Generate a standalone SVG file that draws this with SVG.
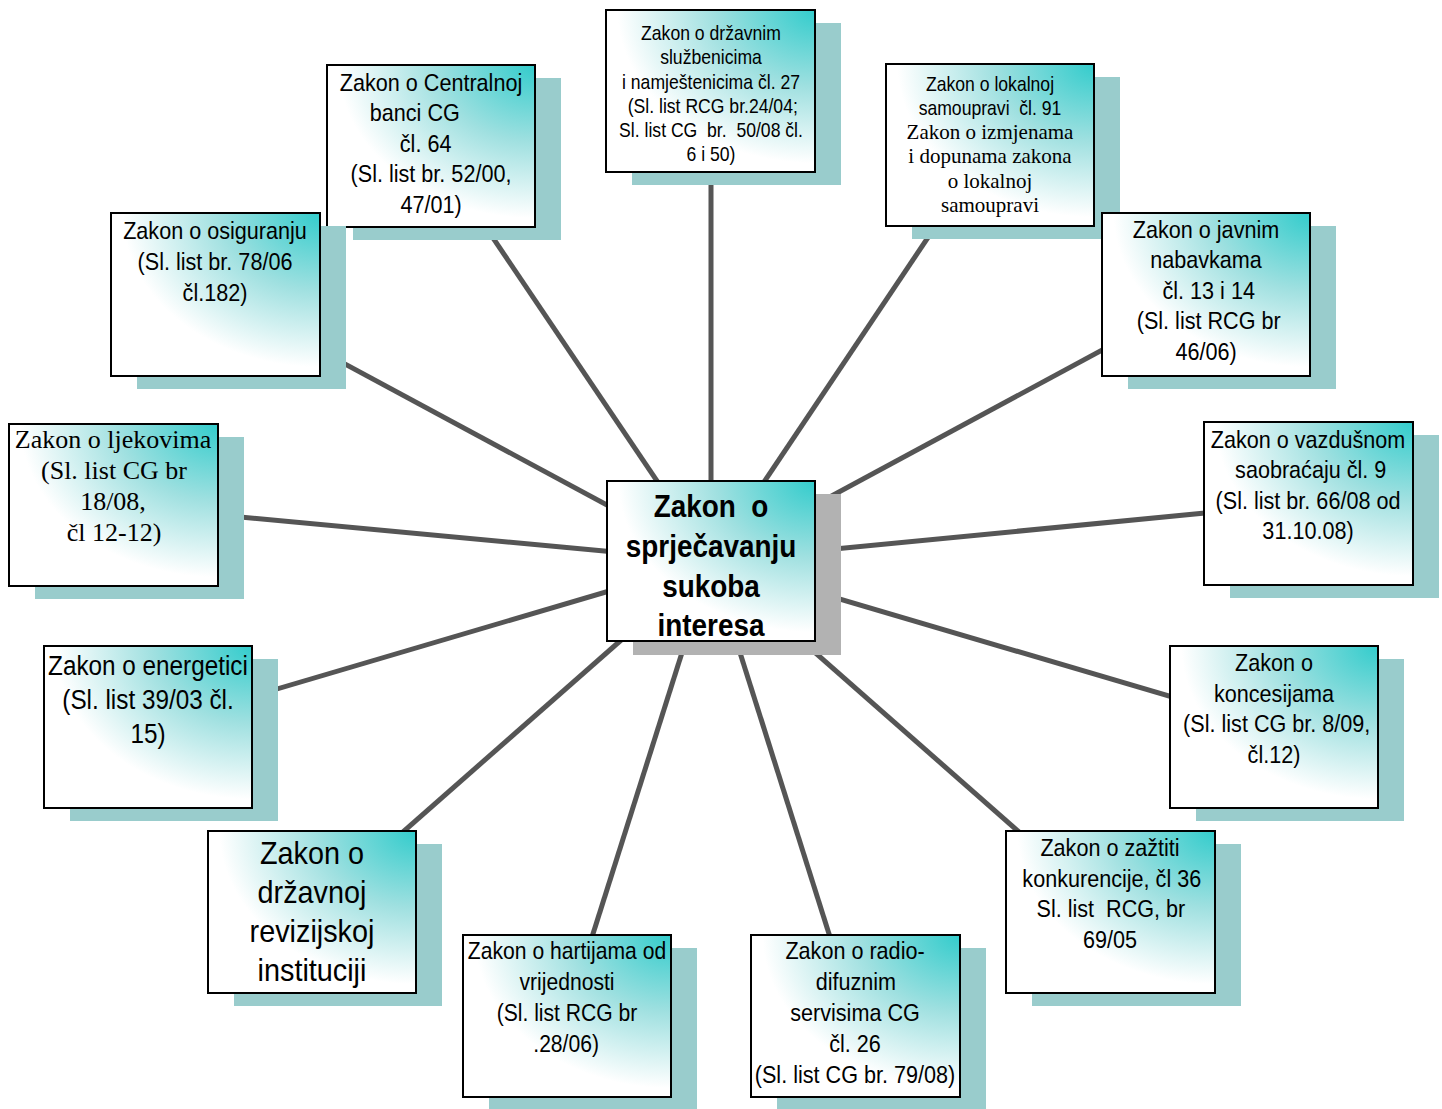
<svg xmlns="http://www.w3.org/2000/svg" width="1442" height="1109" viewBox="0 0 1442 1109">
<defs>
<radialGradient id="g" cx="1" cy="0" r="1.05" fx="1" fy="0">
<stop offset="0" stop-color="#33CCCC"/>
<stop offset="0.45" stop-color="#9FE0E0"/>
<stop offset="0.9" stop-color="#FFFFFF"/>
</radialGradient>
<style>
.bx{fill:url(#g);stroke:#000;stroke-width:2}
.sh{fill:#99CCCC}
.shc{fill:#B2B2B2}
.ln{stroke:#555555;stroke-width:5;fill:none}
.s{font-family:"Liberation Sans",Arial,sans-serif;text-anchor:middle;fill:#000}
.t{font-family:"Liberation Serif","Times New Roman",serif;text-anchor:middle;fill:#000}
.b{font-weight:bold}
</style>
</defs>
<rect width="1442" height="1109" fill="#FFFFFF"/>
<g id="connectors">
<line class="ln" x1="711" y1="561" x2="431" y2="146"/>
<line class="ln" x1="711" y1="561" x2="711" y2="91"/>
<line class="ln" x1="711" y1="561" x2="990" y2="145"/>
<line class="ln" x1="711" y1="561" x2="215" y2="294"/>
<line class="ln" x1="711" y1="561" x2="1206" y2="294"/>
<line class="ln" x1="711" y1="561" x2="113" y2="505"/>
<line class="ln" x1="711" y1="561" x2="1308" y2="503"/>
<line class="ln" x1="711" y1="561" x2="148" y2="727"/>
<line class="ln" x1="711" y1="561" x2="1274" y2="727"/>
<line class="ln" x1="711" y1="561" x2="312" y2="912"/>
<line class="ln" x1="711" y1="561" x2="1110" y2="912"/>
<line class="ln" x1="711" y1="561" x2="567" y2="1016"/>
<line class="ln" x1="711" y1="561" x2="855" y2="1016"/>
</g>
<g id="n-centralna">
<rect class="sh" x="353" y="78" width="208" height="162"/>
<rect class="bx" x="327" y="65" width="208" height="162"/>
<text class="s" font-size="24" transform="translate(431 0) scale(.9 1)"><tspan x="0" y="91">Zakon o Centralnoj</tspan><tspan x="-18" y="121">banci CG</tspan><tspan x="-6" y="152">čl. 64</tspan><tspan x="0" y="182">(Sl. list br. 52/00,</tspan><tspan x="0" y="213">47/01)</tspan></text>
</g>
<g id="n-sluzbenici">
<rect class="sh" x="632" y="23" width="209" height="162"/>
<rect class="bx" x="606" y="10" width="209" height="162"/>
<text class="s" font-size="20" transform="translate(711 0) scale(.88 1)"><tspan x="0" y="40">Zakon o državnim</tspan><tspan x="0" y="64">službenicima</tspan><tspan x="0" y="89">i namještenicima čl. 27</tspan><tspan x="2" y="113">(Sl. list RCG br.24/04;</tspan><tspan x="0" y="137">Sl. list CG&#160; br.&#160; 50/08 čl.</tspan><tspan x="0" y="161">6 i 50)</tspan></text>
</g>
<g id="n-lokalna">
<rect class="sh" x="912" y="77" width="208" height="162"/>
<rect class="bx" x="886" y="64" width="208" height="162"/>
<text class="s" font-size="20" transform="translate(990 0) scale(.88 1)"><tspan x="0" y="91">Zakon o lokalnoj</tspan><tspan x="0" y="115">samoupravi&#160; čl. 91</tspan></text>
<text class="t" font-size="21"><tspan x="990" y="139">Zakon o izmjenama</tspan><tspan x="990" y="163">i dopunama zakona</tspan><tspan x="990" y="188">o lokalnoj</tspan><tspan x="990" y="212">samoupravi</tspan></text>
</g>
<g id="n-osiguranje">
<rect class="sh" x="137" y="226" width="209" height="163"/>
<rect class="bx" x="111" y="213" width="209" height="163"/>
<text class="s" font-size="24" transform="translate(215 0) scale(.9 1)"><tspan x="0" y="239">Zakon o osiguranju</tspan><tspan x="0" y="270">(Sl. list br. 78/06</tspan><tspan x="0" y="301">čl.182)</tspan></text>
</g>
<g id="n-nabavke">
<rect class="sh" x="1128" y="226" width="208" height="163"/>
<rect class="bx" x="1102" y="213" width="208" height="163"/>
<text class="s" font-size="24" transform="translate(1206 0) scale(.9 1)"><tspan x="0" y="238">Zakon o javnim</tspan><tspan x="0" y="268">nabavkama</tspan><tspan x="3" y="299">čl. 13 i 14</tspan><tspan x="3" y="329">(Sl. list RCG br</tspan><tspan x="0" y="360">46/06)</tspan></text>
</g>
<g id="n-ljekovi">
<rect class="sh" x="35" y="437" width="209" height="162"/>
<rect class="bx" x="9" y="424" width="209" height="162"/>
<text class="t" font-size="26"><tspan x="113" y="448">Zakon o ljekovima</tspan><tspan x="114" y="479">(Sl. list CG br</tspan><tspan x="113" y="510">18/08,</tspan><tspan x="114" y="541">čl 12-12)</tspan></text>
</g>
<g id="n-vazdusni">
<rect class="sh" x="1230" y="435" width="209" height="163"/>
<rect class="bx" x="1204" y="422" width="209" height="163"/>
<text class="s" font-size="24" transform="translate(1308 0) scale(.9 1)"><tspan x="0" y="448">Zakon o vazdušnom</tspan><tspan x="3" y="478">saobraćaju čl. 9</tspan><tspan x="0" y="509">(Sl. list br. 66/08 od</tspan><tspan x="0" y="539">31.10.08)</tspan></text>
</g>
<g id="n-energetika">
<rect class="sh" x="70" y="659" width="208" height="162"/>
<rect class="bx" x="44" y="646" width="208" height="162"/>
<text class="s" font-size="27" transform="translate(148 0) scale(.9 1)"><tspan x="0" y="675">Zakon o energetici</tspan><tspan x="0" y="709">(Sl. list 39/03 čl.</tspan><tspan x="0" y="743">15)</tspan></text>
</g>
<g id="n-koncesije">
<rect class="sh" x="1196" y="659" width="208" height="162"/>
<rect class="bx" x="1170" y="646" width="208" height="162"/>
<text class="s" font-size="24" transform="translate(1274 0) scale(.9 1)"><tspan x="0" y="671">Zakon o</tspan><tspan x="0" y="702">koncesijama</tspan><tspan x="3" y="732">(Sl. list CG br. 8/09,</tspan><tspan x="0" y="763">čl.12)</tspan></text>
</g>
<g id="n-revizija">
<rect class="sh" x="234" y="844" width="208" height="162"/>
<rect class="bx" x="208" y="831" width="208" height="162"/>
<text class="s" font-size="32" transform="translate(312 0) scale(.9 1)"><tspan x="0" y="864">Zakon o</tspan><tspan x="0" y="903">državnoj</tspan><tspan x="0" y="942">revizijskoj</tspan><tspan x="0" y="981">instituciji</tspan></text>
</g>
<g id="n-konkurencija">
<rect class="sh" x="1032" y="844" width="209" height="162"/>
<rect class="bx" x="1006" y="831" width="209" height="162"/>
<text class="s" font-size="24" transform="translate(1110 0) scale(.9 1)"><tspan x="0" y="856">Zakon o zažtiti</tspan><tspan x="2" y="887">konkurencije, čl 36</tspan><tspan x="1" y="917">Sl. list&#160; RCG, br</tspan><tspan x="0" y="948">69/05</tspan></text>
</g>
<g id="n-hartije">
<rect class="sh" x="489" y="948" width="208" height="162"/>
<rect class="bx" x="463" y="935" width="208" height="162"/>
<text class="s" font-size="24" transform="translate(567 0) scale(.88 1)"><tspan x="0" y="959">Zakon o hartijama od</tspan><tspan x="0" y="990">vrijednosti</tspan><tspan x="0" y="1021">(Sl. list RCG br</tspan><tspan x="-1" y="1052">.28/06)</tspan></text>
</g>
<g id="n-radio">
<rect class="sh" x="777" y="948" width="209" height="162"/>
<rect class="bx" x="751" y="935" width="209" height="162"/>
<text class="s" font-size="24" transform="translate(855 0) scale(.9 1)"><tspan x="0" y="959">Zakon o radio-</tspan><tspan x="1" y="990">difuznim</tspan><tspan x="0" y="1021">servisima CG</tspan><tspan x="0" y="1052">čl. 26</tspan><tspan x="0" y="1083">(Sl. list CG br. 79/08)</tspan></text>
</g>
<g id="n-centar">
<rect class="shc" x="633" y="494" width="208" height="161"/>
<rect class="bx" x="607" y="481" width="208" height="160"/>
<text class="s b" font-size="31" transform="translate(711 0) scale(.9 1)"><tspan x="0" y="517">Zakon&#160; o</tspan><tspan x="0" y="557">sprječavanju</tspan><tspan x="0" y="597">sukoba</tspan><tspan x="0" y="636">interesa</tspan></text>
</g>
</svg>
